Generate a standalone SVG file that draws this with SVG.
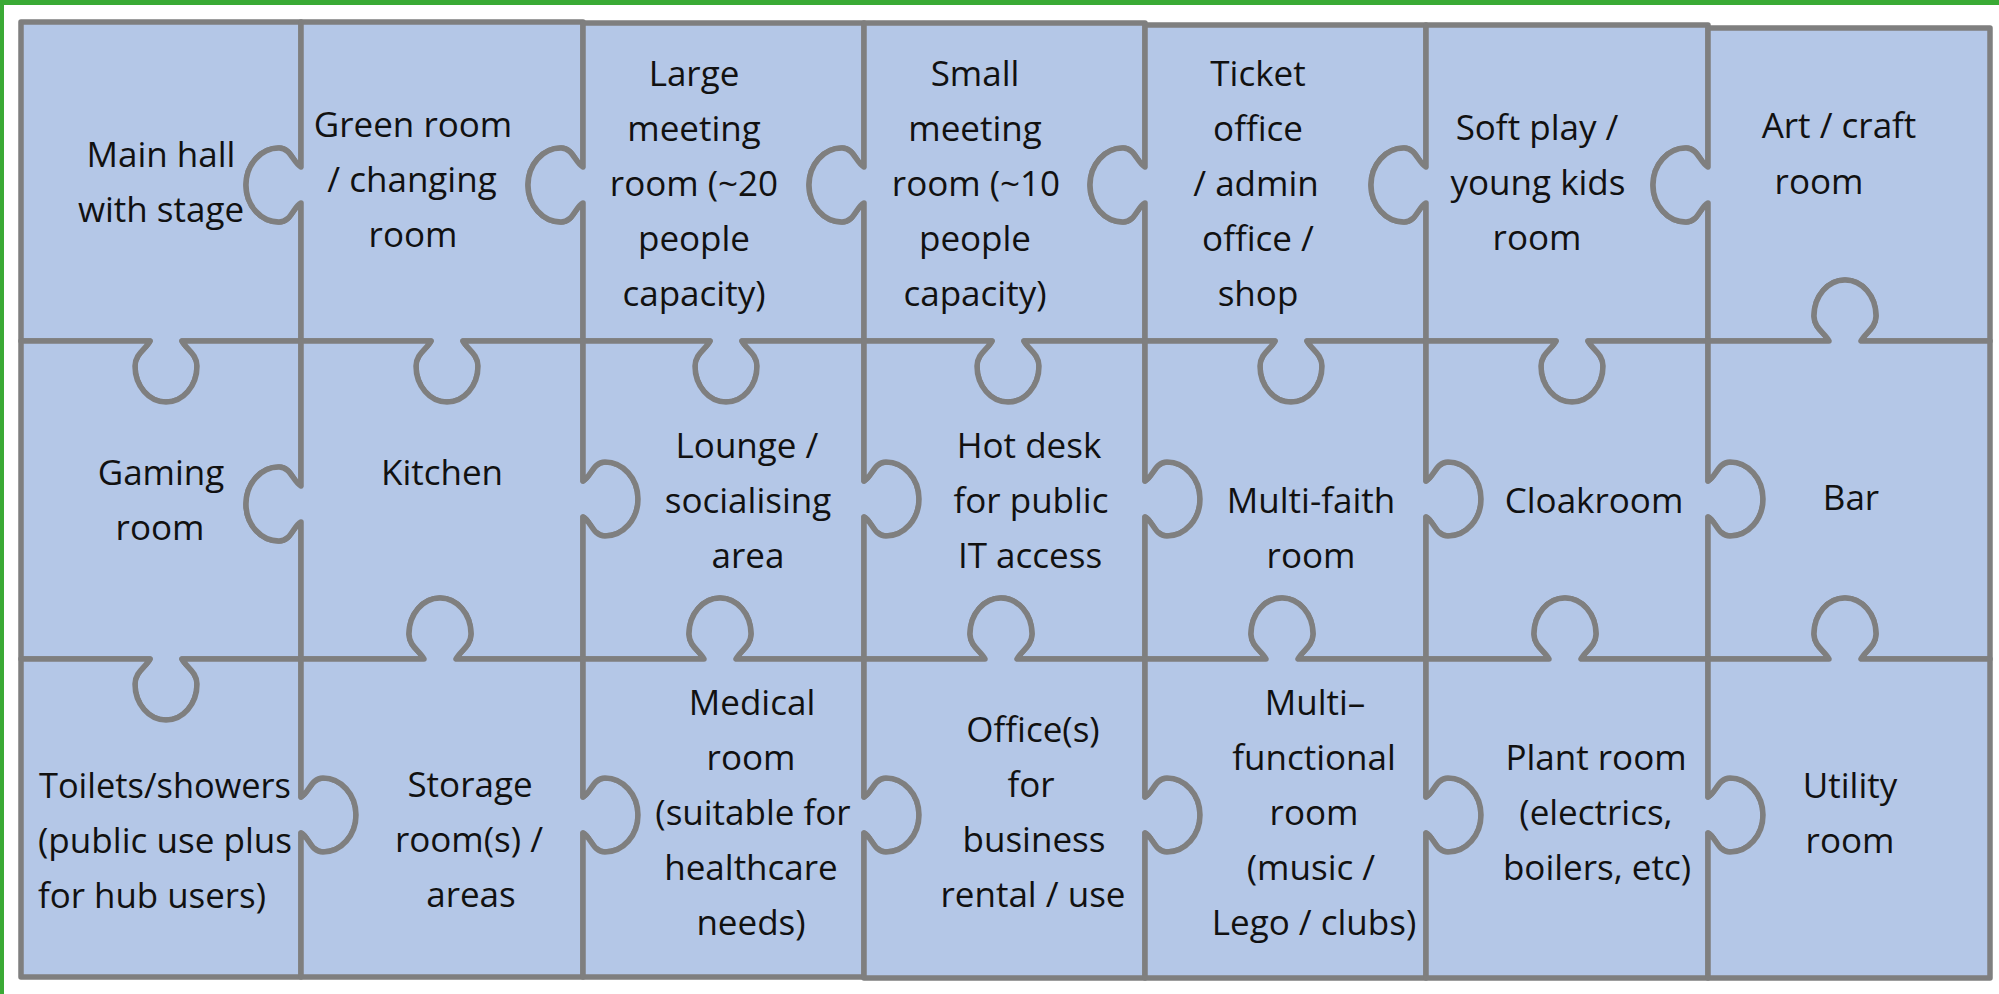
<svg xmlns="http://www.w3.org/2000/svg" width="1999" height="994" viewBox="0 0 1999 994">
<style>
.piece{fill:#b4c7e7;stroke:#7f7f7f;stroke-width:5.5;stroke-linejoin:round}
.lbl{font-family:"Open Sans","Liberation Sans",sans-serif;font-size:35px;fill:#111;text-anchor:middle}
.lft{text-anchor:start}
</style>
<rect x="0" y="0" width="1999" height="994" fill="#ffffff"/>
<rect x="0" y="0" width="1999" height="5" fill="#3aaa35"/>
<rect x="0" y="0" width="4" height="994" fill="#3aaa35"/>

<g id="main-hall">
<path class="piece" d="M21,22 L301,22 L301,167 C293,163 291,148 279,148 A33,37 0 1 0 279,222 C291,222 293,207 301,203 L301,341 L182,341 C186,349 197,354 197,366 A31,36 0 1 1 135,366 C135,354 146,349 150,341 L21,341 Z"/>
<text class="lbl"><tspan x="161" y="167">Main hall</tspan><tspan x="161" y="222">with stage</tspan></text>
</g>
<g id="green-room">
<path class="piece" d="M301,22 L583,22 L583,167 C575,163 573,148 561,148 A33,37 0 1 0 561,222 C573,222 575,207 583,203 L583,341 L463,341 C467,349 478,354 478,366 A31,36 0 1 1 416,366 C416,354 427,349 431,341 L301,341 L301,203 C293,207 291,222 279,222 A33,37 0 1 1 279,148 C291,148 293,163 301,167 Z"/>
<text class="lbl"><tspan x="413" y="137">Green room</tspan><tspan x="412" y="192">/ changing</tspan><tspan x="413" y="247">room</tspan></text>
</g>
<g id="large-meeting-room">
<path class="piece" d="M583,23 L864,23 L864,167 C856,163 854,148 842,148 A33,37 0 1 0 842,222 C854,222 856,207 864,203 L864,341 L742,341 C746,349 757,354 757,366 A31,36 0 1 1 695,366 C695,354 706,349 710,341 L583,341 L583,203 C575,207 573,222 561,222 A33,37 0 1 1 561,148 C573,148 575,163 583,167 Z"/>
<text class="lbl"><tspan x="694" y="86">Large</tspan><tspan x="694" y="141">meeting</tspan><tspan x="694" y="196">room (~20</tspan><tspan x="694" y="251">people</tspan><tspan x="694" y="306">capacity)</tspan></text>
</g>
<g id="small-meeting-room">
<path class="piece" d="M864,23 L1145,23 L1145,167 C1137,163 1135,148 1123,148 A33,37 0 1 0 1123,222 C1135,222 1137,207 1145,203 L1145,341 L1024,341 C1028,349 1039,354 1039,366 A31,36 0 1 1 977,366 C977,354 988,349 992,341 L864,341 L864,203 C856,207 854,222 842,222 A33,37 0 1 1 842,148 C854,148 856,163 864,167 Z"/>
<text class="lbl"><tspan x="975" y="86">Small</tspan><tspan x="975" y="141">meeting</tspan><tspan x="976" y="196">room (~10</tspan><tspan x="975" y="251">people</tspan><tspan x="975" y="306">capacity)</tspan></text>
</g>
<g id="ticket-office">
<path class="piece" d="M1145,25 L1426,25 L1426,167 C1418,163 1416,148 1404,148 A33,37 0 1 0 1404,222 C1416,222 1418,207 1426,203 L1426,341 L1307,341 C1311,349 1322,354 1322,366 A31,36 0 1 1 1260,366 C1260,354 1271,349 1275,341 L1145,341 L1145,203 C1137,207 1135,222 1123,222 A33,37 0 1 1 1123,148 C1135,148 1137,163 1145,167 Z"/>
<text class="lbl"><tspan x="1258" y="86">Ticket</tspan><tspan x="1258" y="141">office</tspan><tspan x="1256" y="196">/ admin</tspan><tspan x="1258" y="251">office /</tspan><tspan x="1258" y="306">shop</tspan></text>
</g>
<g id="soft-play">
<path class="piece" d="M1426,25 L1708,25 L1708,167 C1700,163 1698,148 1686,148 A33,37 0 1 0 1686,222 C1698,222 1700,207 1708,203 L1708,341 L1588,341 C1592,349 1603,354 1603,366 A31,36 0 1 1 1541,366 C1541,354 1552,349 1556,341 L1426,341 L1426,203 C1418,207 1416,222 1404,222 A33,37 0 1 1 1404,148 C1416,148 1418,163 1426,167 Z"/>
<text class="lbl"><tspan x="1537" y="140">Soft play /</tspan><tspan x="1538" y="195">young kids</tspan><tspan x="1537" y="250">room</tspan></text>
</g>
<g id="art-craft-room">
<path class="piece" d="M1708,28 L1990,28 L1990,341 L1861,341 C1865,333 1876,328 1876,316 A31,36 0 1 0 1814,316 C1814,328 1825,333 1829,341 L1708,341 L1708,203 C1700,207 1698,222 1686,222 A33,37 0 1 1 1686,148 C1698,148 1700,163 1708,167 Z"/>
<text class="lbl"><tspan x="1839" y="138">Art / craft</tspan><tspan x="1819" y="194">room</tspan></text>
</g>

<g id="gaming-room">
<path class="piece" d="M21,341 L150,341 C146,349 135,354 135,366 A31,36 0 1 0 197,366 C197,354 186,349 182,341 L301,341 L301,486 C293,482 291,467 279,467 A33,37 0 1 0 279,541 C291,541 293,526 301,522 L301,659 L182,659 C186,667 197,672 197,684 A31,36 0 1 1 135,684 C135,672 146,667 150,659 L21,659 Z"/>
<text class="lbl"><tspan x="161" y="485">Gaming</tspan><tspan x="160" y="540">room</tspan></text>
</g>
<g id="kitchen">
<path class="piece" d="M301,341 L431,341 C427,349 416,354 416,366 A31,36 0 1 0 478,366 C478,354 467,349 463,341 L583,341 L583,481 C591,477 593,462 605,462 A33,37 0 1 1 605,536 C593,536 591,521 583,517 L583,659 L456,659 C460,651 471,646 471,634 A31,36 0 1 0 409,634 C409,646 420,651 424,659 L301,659 L301,522 C293,526 291,541 279,541 A33,37 0 1 1 279,467 C291,467 293,482 301,486 Z"/>
<text class="lbl"><tspan x="442" y="485">Kitchen</tspan></text>
</g>
<g id="lounge">
<path class="piece" d="M583,341 L710,341 C706,349 695,354 695,366 A31,36 0 1 0 757,366 C757,354 746,349 742,341 L864,341 L864,481 C872,477 874,462 886,462 A33,37 0 1 1 886,536 C874,536 872,521 864,517 L864,659 L736,659 C740,651 751,646 751,634 A31,36 0 1 0 689,634 C689,646 700,651 704,659 L583,659 L583,517 C591,521 593,536 605,536 A33,37 0 1 0 605,462 C593,462 591,477 583,481 Z"/>
<text class="lbl"><tspan x="747" y="458">Lounge /</tspan><tspan x="748" y="513">socialising</tspan><tspan x="748" y="568">area</tspan></text>
</g>
<g id="hot-desk">
<path class="piece" d="M864,341 L992,341 C988,349 977,354 977,366 A31,36 0 1 0 1039,366 C1039,354 1028,349 1024,341 L1145,341 L1145,481 C1153,477 1155,462 1167,462 A33,37 0 1 1 1167,536 C1155,536 1153,521 1145,517 L1145,659 L1017,659 C1021,651 1032,646 1032,634 A31,36 0 1 0 970,634 C970,646 981,651 985,659 L864,659 L864,517 C872,521 874,536 886,536 A33,37 0 1 0 886,462 C874,462 872,477 864,481 Z"/>
<text class="lbl"><tspan x="1029" y="458">Hot desk</tspan><tspan x="1031" y="513">for public</tspan><tspan x="1030" y="568">IT access</tspan></text>
</g>
<g id="multi-faith-room">
<path class="piece" d="M1145,341 L1275,341 C1271,349 1260,354 1260,366 A31,36 0 1 0 1322,366 C1322,354 1311,349 1307,341 L1426,341 L1426,481 C1434,477 1436,462 1448,462 A33,37 0 1 1 1448,536 C1436,536 1434,521 1426,517 L1426,659 L1298,659 C1302,651 1313,646 1313,634 A31,36 0 1 0 1251,634 C1251,646 1262,651 1266,659 L1145,659 L1145,517 C1153,521 1155,536 1167,536 A33,37 0 1 0 1167,462 C1155,462 1153,477 1145,481 Z"/>
<text class="lbl"><tspan x="1311" y="513">Multi-faith</tspan><tspan x="1311" y="568">room</tspan></text>
</g>
<g id="cloakroom">
<path class="piece" d="M1426,341 L1556,341 C1552,349 1541,354 1541,366 A31,36 0 1 0 1603,366 C1603,354 1592,349 1588,341 L1708,341 L1708,481 C1716,477 1718,462 1730,462 A33,37 0 1 1 1730,536 C1718,536 1716,521 1708,517 L1708,659 L1581,659 C1585,651 1596,646 1596,634 A31,36 0 1 0 1534,634 C1534,646 1545,651 1549,659 L1426,659 L1426,517 C1434,521 1436,536 1448,536 A33,37 0 1 0 1448,462 C1436,462 1434,477 1426,481 Z"/>
<text class="lbl"><tspan x="1594" y="513">Cloakroom</tspan></text>
</g>
<g id="bar">
<path class="piece" d="M1708,341 L1829,341 C1825,333 1814,328 1814,316 A31,36 0 1 1 1876,316 C1876,328 1865,333 1861,341 L1990,341 L1990,659 L1861,659 C1865,651 1876,646 1876,634 A31,36 0 1 0 1814,634 C1814,646 1825,651 1829,659 L1708,659 L1708,517 C1716,521 1718,536 1730,536 A33,37 0 1 0 1730,462 C1718,462 1716,477 1708,481 Z"/>
<text class="lbl"><tspan x="1851" y="510">Bar</tspan></text>
</g>

<g id="toilets-showers">
<path class="piece" d="M21,659 L150,659 C146,667 135,672 135,684 A31,36 0 1 0 197,684 C197,672 186,667 182,659 L301,659 L301,797 C309,793 311,778 323,778 A33,37 0 1 1 323,852 C311,852 309,837 301,833 L301,977 L21,977 Z"/>
<text class="lbl lft"><tspan x="39" y="798" textLength="252" lengthAdjust="spacingAndGlyphs">Toilets/showers</tspan><tspan x="38" y="853" textLength="254" lengthAdjust="spacingAndGlyphs">(public use plus</tspan><tspan x="38" y="908" textLength="228" lengthAdjust="spacingAndGlyphs">for hub users)</tspan></text>
</g>
<g id="storage-rooms">
<path class="piece" d="M301,659 L424,659 C420,651 409,646 409,634 A31,36 0 1 1 471,634 C471,646 460,651 456,659 L583,659 L583,797 C591,793 593,778 605,778 A33,37 0 1 1 605,852 C593,852 591,837 583,833 L583,977 L301,977 L301,833 C309,837 311,852 323,852 A33,37 0 1 0 323,778 C311,778 309,793 301,797 Z"/>
<text class="lbl"><tspan x="470" y="797">Storage</tspan><tspan x="469" y="852">room(s) /</tspan><tspan x="471" y="907">areas</tspan></text>
</g>
<g id="medical-room">
<path class="piece" d="M583,659 L704,659 C700,651 689,646 689,634 A31,36 0 1 1 751,634 C751,646 740,651 736,659 L864,659 L864,797 C872,793 874,778 886,778 A33,37 0 1 1 886,852 C874,852 872,837 864,833 L864,977 L583,977 L583,833 C591,837 593,852 605,852 A33,37 0 1 0 605,778 C593,778 591,793 583,797 Z"/>
<text class="lbl"><tspan x="752" y="715">Medical</tspan><tspan x="751" y="770">room</tspan><tspan x="753" y="825">(suitable for</tspan><tspan x="751" y="880">healthcare</tspan><tspan x="751" y="935">needs)</tspan></text>
</g>
<g id="business-offices">
<path class="piece" d="M864,659 L985,659 C981,651 970,646 970,634 A31,36 0 1 1 1032,634 C1032,646 1021,651 1017,659 L1145,659 L1145,797 C1153,793 1155,778 1167,778 A33,37 0 1 1 1167,852 C1155,852 1153,837 1145,833 L1145,978 L864,978 L864,833 C872,837 874,852 886,852 A33,37 0 1 0 886,778 C874,778 872,793 864,797 Z"/>
<text class="lbl"><tspan x="1033" y="742">Office(s)</tspan><tspan x="1031" y="797">for</tspan><tspan x="1034" y="852">business</tspan><tspan x="1033" y="907">rental / use</tspan></text>
</g>
<g id="multi-functional-room">
<path class="piece" d="M1145,659 L1266,659 C1262,651 1251,646 1251,634 A31,36 0 1 1 1313,634 C1313,646 1302,651 1298,659 L1426,659 L1426,797 C1434,793 1436,778 1448,778 A33,37 0 1 1 1448,852 C1436,852 1434,837 1426,833 L1426,978 L1145,978 L1145,833 C1153,837 1155,852 1167,852 A33,37 0 1 0 1167,778 C1155,778 1153,793 1145,797 Z"/>
<text class="lbl"><tspan x="1315" y="715">Multi–</tspan><tspan x="1314" y="770">functional</tspan><tspan x="1314" y="825">room</tspan><tspan x="1311" y="880">(music /</tspan><tspan x="1314" y="935">Lego / clubs)</tspan></text>
</g>
<g id="plant-room">
<path class="piece" d="M1426,659 L1549,659 C1545,651 1534,646 1534,634 A31,36 0 1 1 1596,634 C1596,646 1585,651 1581,659 L1708,659 L1708,797 C1716,793 1718,778 1730,778 A33,37 0 1 1 1730,852 C1718,852 1716,837 1708,833 L1708,978 L1426,978 L1426,833 C1434,837 1436,852 1448,852 A33,37 0 1 0 1448,778 C1436,778 1434,793 1426,797 Z"/>
<text class="lbl"><tspan x="1596" y="770">Plant room</tspan><tspan x="1596" y="825">(electrics,</tspan><tspan x="1597" y="880">boilers, etc)</tspan></text>
</g>
<g id="utility-room">
<path class="piece" d="M1708,659 L1829,659 C1825,651 1814,646 1814,634 A31,36 0 1 1 1876,634 C1876,646 1865,651 1861,659 L1990,659 L1990,978 L1708,978 L1708,833 C1716,837 1718,852 1730,852 A33,37 0 1 0 1730,778 C1718,778 1716,793 1708,797 Z"/>
<text class="lbl"><tspan x="1850" y="798">Utility</tspan><tspan x="1850" y="853">room</tspan></text>
</g>
</svg>
